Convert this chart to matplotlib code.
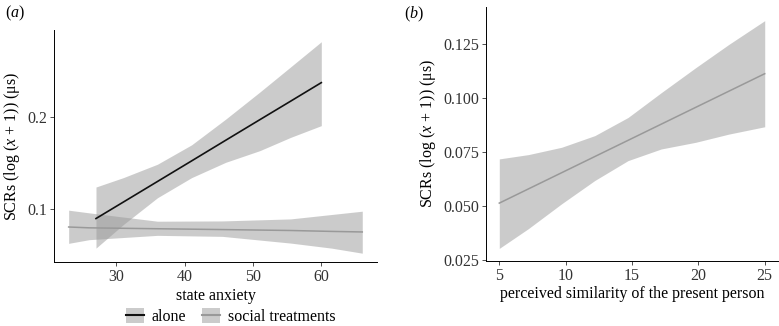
import matplotlib
matplotlib.use("Agg")
import matplotlib.pyplot as plt
from matplotlib.patches import Patch
from matplotlib.lines import Line2D

plt.rcParams['font.family'] = ['Liberation Serif', 'DejaVu Serif']
plt.rcParams['mathtext.fontset'] = 'custom'
plt.rcParams['mathtext.rm'] = 'Liberation Serif'
plt.rcParams['mathtext.it'] = 'Liberation Serif:italic'

# panel (a): state anxiety
alone_x = [27, 31, 36, 41, 46, 51, 55.5, 60]
alone_fit = [0.0898, 0.1077, 0.1301, 0.1525, 0.1750, 0.1974, 0.2175, 0.2377]
alone_hi = [0.1241, 0.1343, 0.1489, 0.1700, 0.1980, 0.2275, 0.2548, 0.2822]
alone_lo = [0.0576, 0.0832, 0.1124, 0.1343, 0.1510, 0.1637, 0.1781, 0.1909]

social_x = [23, 26, 36, 45.5, 55.5, 61.5, 66]
social_fit = [0.0806, 0.0797, 0.0787, 0.0778, 0.0768, 0.0758, 0.0752]
social_hi = [0.0989, 0.0960, 0.0869, 0.0872, 0.0894, 0.0942, 0.0978]
social_lo = [0.0628, 0.0668, 0.0715, 0.0704, 0.0631, 0.0576, 0.0521]

# panel (b): perceived similarity
sim_x = [5, 7.2, 9.7, 12.2, 14.7, 17.2, 19.8, 22.3, 25]
sim_fit = [0.0514, 0.0580, 0.0655, 0.0730, 0.0805, 0.0880, 0.0958, 0.1033, 0.1114]
sim_hi = [0.0719, 0.0739, 0.0773, 0.0827, 0.0911, 0.1026, 0.1142, 0.1250, 0.1360]
sim_lo = [0.0304, 0.0396, 0.0511, 0.0619, 0.0711, 0.0765, 0.0796, 0.0834, 0.0868]

ribbon = '#999999'
ylab = r'SCRs (log ($x$ + 1)) (μs)'
fs = 11.5

fig = plt.figure(figsize=(7.79, 3.26), dpi=100)
ax1 = fig.add_axes([0.0693, 0.1963, 0.4146, 0.7117])
ax2 = fig.add_axes([0.6239, 0.2003, 0.3748, 0.778])

ax1.fill_between(social_x, social_lo, social_hi, color=ribbon, alpha=0.5, lw=0)
ax1.fill_between(alone_x, alone_lo, alone_hi, color=ribbon, alpha=0.5, lw=0)
ax1.plot(social_x, social_fit, color='#999999', lw=1.1)
ax1.plot(alone_x, alone_fit, color='#111111', lw=1.2)
ax1.set_xlim(20.85, 68.15)
ax1.set_ylim(0.0425, 0.295)
ax1.set_xticks([30, 40, 50, 60])
ax1.set_yticks([0.1, 0.2])
ax1.set_xlabel('state anxiety', fontsize=fs, labelpad=2)
ax1.set_ylabel(ylab, fontsize=fs, labelpad=4)

ax2.fill_between(sim_x, sim_lo, sim_hi, color=ribbon, alpha=0.5, lw=0)
ax2.plot(sim_x, sim_fit, color='#999999', lw=1.1)
ax2.set_xlim(4, 26)
ax2.set_ylim(0.0247, 0.1423)
ax2.set_xticks([5, 10, 15, 20, 25])
ax2.set_yticks([0.025, 0.05, 0.075, 0.1, 0.125])
ax2.set_yticklabels(['0.025', '0.050', '0.075', '0.100', '0.125'])
ax2.set_xlabel('perceived similarity of the present person', fontsize=fs, labelpad=2)
ax2.set_ylabel(ylab, fontsize=fs, labelpad=4)

for ax in (ax1, ax2):
    for s in ('top', 'right'):
        ax.spines[s].set_visible(False)
    for s in ('left', 'bottom'):
        ax.spines[s].set_linewidth(0.7)
    ax.tick_params(labelsize=fs, length=3, width=0.6, colors='#333333',
                   labelcolor='#333333', pad=2)

h_alone = (Patch(facecolor=ribbon, alpha=0.5), Line2D([], [], color='#111111', lw=1.5))
h_social = (Patch(facecolor=ribbon, alpha=0.5), Line2D([], [], color='#999999', lw=1.5))
ax1.legend([h_alone, h_social], ['alone', 'social treatments'], ncol=2,
           loc='center', bbox_to_anchor=(0.548, -0.235), frameon=False,
           fontsize=fs, handlelength=1.1, handleheight=1.1, handletextpad=0.5,
           columnspacing=1.0, borderpad=0.2)

fig.text(0.006, 0.96, '($a$)', fontsize=fs, va='center')
fig.text(0.518, 0.955, '($b$)', fontsize=fs, va='center')

fig.savefig('out.png', dpi=100)
